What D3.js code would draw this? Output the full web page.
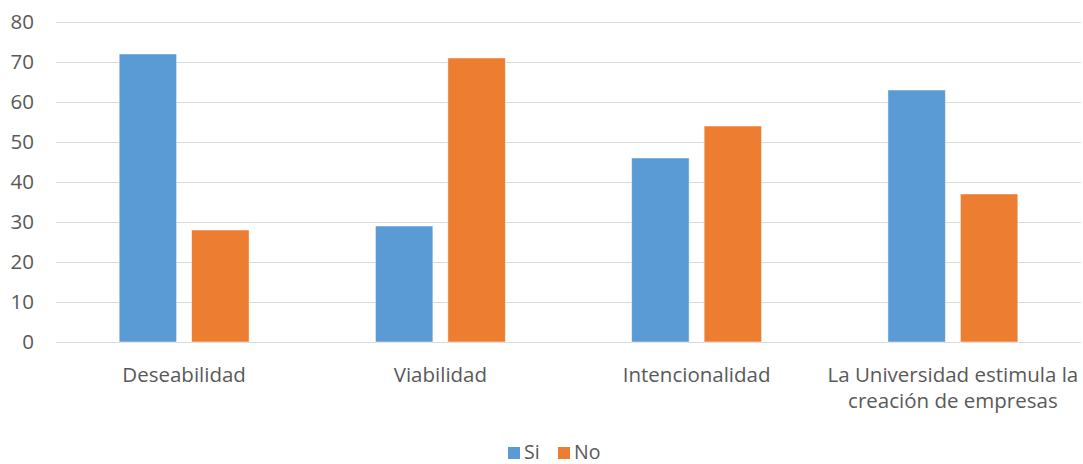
<!DOCTYPE html>
<meta charset="utf-8">
<html>
<head>
<style>
    body { margin: 0; background: #fff; }
    svg text { font-family: 'Open Sans', sans-serif; fill: #595959; }
    .grid line { stroke: #d9d9d9; stroke-width: 1.3; shape-rendering: crispEdges; }
    .grid path { display: none; }
</style>
<script src="https://cdn.jsdelivr.net/npm/d3@7/dist/d3.min.js"></script>
</head>
<body>
<svg id="chart"></svg>
<script>
    // datos
    var categorias = [
        ["Deseabilidad"],
        ["Viabilidad"],
        ["Intencionalidad"],
        ["La Universidad estimula la", "creación de empresas"]
    ];
    var series = ["Si", "No"];
    var valoresSi = [72, 29, 46, 63];
    var valoresNo = [28, 71, 54, 37];
    var ticksY = [0, 10, 20, 30, 40, 50, 60, 70, 80];
    var colores = ["#5b9bd5", "#ed7d31"];

    var W = 1083, H = 464;
    var mIzq = 56, mDer = 1081, mSup = 22, mInf = 342;

    var svg = d3.select("#chart").attr("width", W).attr("height", H);

    var nombres = categorias.map(function (c) { return c.join(" "); });

    var x = d3.scaleBand().domain(nombres).range([mIzq, mDer]).padding(0);
    var bw = x.bandwidth();
    // grupo de 2 barras centrado en la banda
    var grupo = bw * 0.507;
    var x1 = d3.scaleBand().domain(series)
        .range([(bw - grupo) / 2, (bw + grupo) / 2])
        .paddingInner(0.207);

    var y = d3.scaleLinear().domain([0, 80]).range([mInf, mSup]);

    // lineas de division
    svg.append("g")
        .attr("class", "grid")
        .attr("transform", "translate(" + mIzq + ",0)")
        .call(d3.axisLeft(y).tickValues(ticksY).tickSize(-(mDer - mIzq)).tickFormat(""));

    // etiquetas eje y
    svg.selectAll(".ylab")
        .data(ticksY)
        .enter()
        .append("text")
        .attr("x", 34)
        .attr("y", function (d) { return y(d); })
        .attr("dy", "0.36em")
        .attr("text-anchor", "end")
        .style("font-size", "20.5px")
        .text(function (d) { return d; });

    var filas = nombres.map(function (n, i) {
        return { cat: n, valores: [valoresSi[i], valoresNo[i]] };
    });

    var g = svg.selectAll(".grupo")
        .data(filas)
        .enter()
        .append("g")
        .attr("transform", function (d) { return "translate(" + x(d.cat) + ",0)"; });

    g.selectAll("rect")
        .data(function (d) { return d.valores.map(function (v, j) { return { s: series[j], v: v, j: j }; }); })
        .enter()
        .append("rect")
        .attr("x", function (d) { return x1(d.s); })
        .attr("y", function (d) { return y(d.v); })
        .attr("width", x1.bandwidth())
        .attr("height", function (d) { return y(0) - y(d.v); })
        .attr("fill", function (d) { return colores[d.j]; })
        .attr("stroke", "#fff")
        .attr("stroke-opacity", 0.6)
        .attr("stroke-width", 0.8);

    // etiquetas de categoria
    categorias.forEach(function (lineas, i) {
        var cx = x(nombres[i]) + bw / 2;
        var t = svg.append("text")
            .attr("x", cx)
            .attr("y", 382)
            .attr("text-anchor", "middle")
            .style("font-size", "20.5px");
        lineas.forEach(function (l, k) {
            t.append("tspan")
                .attr("x", cx)
                .attr("dy", k == 0 ? 0 : 26)
                .text(l);
        });
    });

    // leyenda
    var leg = svg.append("g").attr("transform", "translate(508,447)");
    var posLeyenda = [0, 50];
    series.forEach(function (s, i) {
        leg.append("rect")
            .attr("x", posLeyenda[i])
            .attr("y", 0)
            .attr("width", 12)
            .attr("height", 12)
            .attr("fill", colores[i]);
        leg.append("text")
            .attr("x", posLeyenda[i] + 16)
            .attr("y", 12)
            .style("font-size", "19.5px")
            .text(s);
    });
</script>
</body>
</html>
